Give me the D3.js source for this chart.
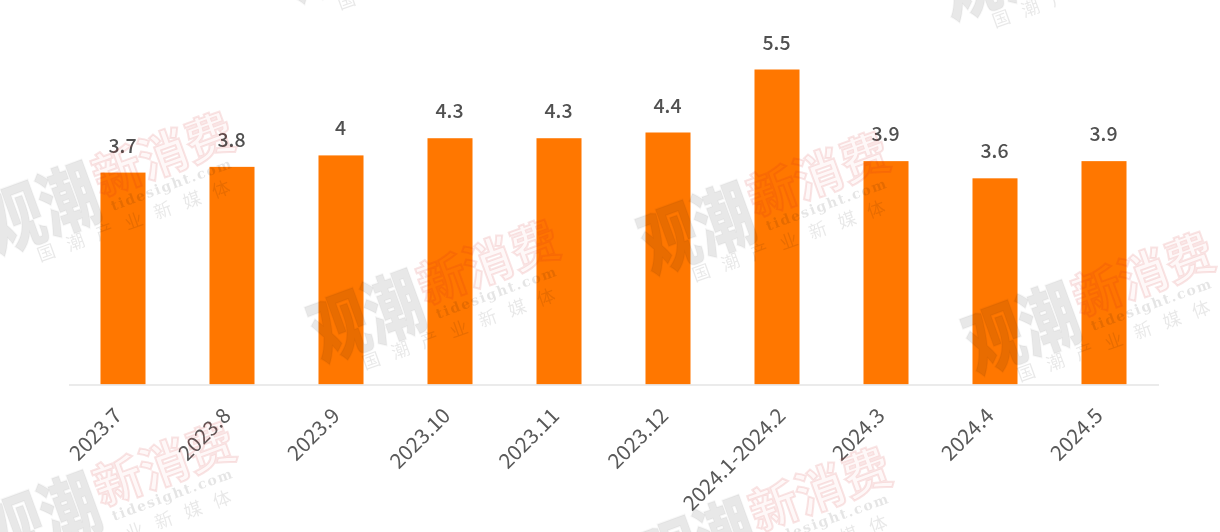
<!DOCTYPE html>
<html><head><meta charset="utf-8">
<script src="https://cdn.jsdelivr.net/npm/d3@7"></script>
<style>html,body{margin:0;padding:0;background:#fff}svg{display:block;filter:blur(0.45px)}</style>
</head><body><svg id="c" width="1220" height="532"></svg>
<script>
const categories=["2023.7","2023.8","2023.9","2023.10","2023.11","2023.12","2024.1-2024.2","2024.3","2024.4","2024.5"];
const values=[3.7,3.8,4,4.3,4.3,4.4,5.5,3.9,3.6,3.9];
const wmMain=["观潮"];const wmPink=["新消费"];const wmUrl=["tidesight.com"];const wmSub=["国潮产业新媒体"];
const wmAnchors=[[40,262],[365,370],[695,282],[1020,382],[41,572],[697,597],[340,10],[995,28]];
const svg=d3.select("#c");
const font="'Noto Sans CJK SC','Noto Sans',sans-serif";
const x=d3.scaleBand().domain(categories).range([68.5,1158.5]).paddingInner(0.587).paddingOuter(0.2935);
const y=d3.scaleLinear().domain([0,5.5]).range([384.5,69.5]);
svg.append("g").selectAll("rect").data(values).join("rect")
 .attr("x",(d,i)=>x(categories[i])).attr("width",x.bandwidth())
 .attr("y",d=>y(d)).attr("height",d=>y(0)-y(d)).attr("fill","#ff7700");
const ax=svg.append("g").attr("transform","translate(0,384.5)").call(d3.axisBottom(x).tickSize(0).tickPadding(0));
ax.select(".domain").attr("stroke","#e4e4e4").attr("stroke-width",1.5);
ax.selectAll("text").attr("font-family",font).attr("font-size",20.8).attr("fill","#595959")
 .attr("text-anchor","end").attr("dy",0).attr("y",0).attr("x",0)
 .attr("transform",function(){const L=this.getComputedTextLength();return `translate(${0.1375*L-8.6},32.5) rotate(-45)`;});
svg.append("g").selectAll("text").data(values).join("text")
 .attr("x",(d,i)=>x(categories[i])+x.bandwidth()/2-0.5).attr("y",d=>y(d)-20)
 .attr("text-anchor","middle").attr("font-family",font).attr("font-size",19.5).attr("font-weight",500)
 .attr("fill","#505050").text(d=>d);
const wm=svg.append("g").attr("pointer-events","none");
wmAnchors.forEach(([a,b])=>{
 const g=wm.append("g").attr("transform",`translate(${a},${b}) rotate(-20)`);
 g.append("text").attr("transform","translate(-38,-22) scale(0.8,1.02)").attr("font-family",font).attr("font-weight",900).attr("font-size",72)
  .attr("fill","#000").attr("fill-opacity",0.09).attr("stroke","#000").attr("stroke-opacity",0.03).attr("stroke-width",2).text(wmMain[0]);
 g.append("text").attr("x",79).attr("y",-41).attr("font-family",font).attr("font-weight",700).attr("font-size",49)
  .attr("fill","#d02020").attr("fill-opacity",0.03).attr("stroke","#d02020").attr("stroke-opacity",0.12).attr("stroke-width",2).text(wmPink[0]);
 g.append("text").attr("x",86).attr("y",-23).attr("font-family","'DejaVu Serif',serif").attr("font-weight",700).attr("font-size",14)
  .attr("letter-spacing",1.6).attr("fill","#000").attr("fill-opacity",0.1).text(wmUrl[0]);
 g.append("text").attr("x",0).attr("y",0).attr("font-family",font).attr("font-size",18)
  .attr("letter-spacing",13).attr("fill","#000").attr("fill-opacity",0.09).text(wmSub[0]);
});
</script></body></html>
